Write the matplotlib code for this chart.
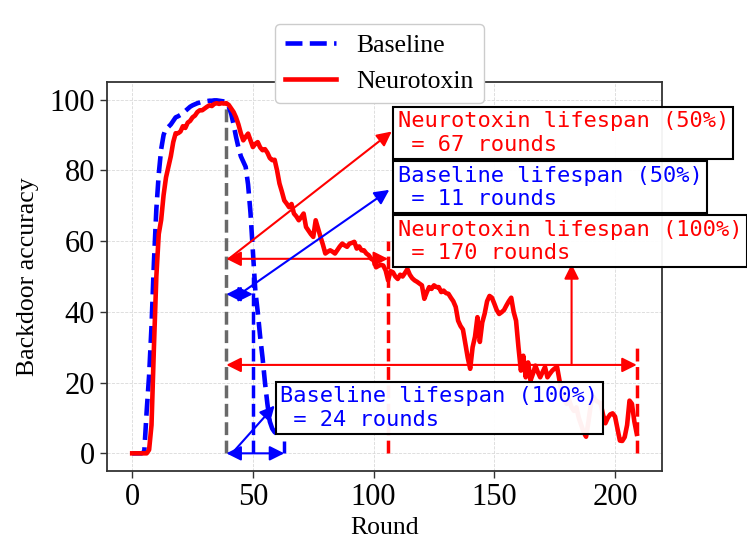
import numpy as np
import matplotlib
matplotlib.use("Agg")
import matplotlib.pyplot as plt

plt.rcParams['font.family'] = ['Liberation Serif', 'DejaVu Serif']

# Baseline backdoor accuracy per round
base_rounds = list(range(0, 63))
base_acc = [0, 0, 0, 0, 0, 0.5, 12, 22, 36, 54,
            69, 79, 86, 90, 92, 92.3, 93, 94, 95, 95.3,
            95.7, 96, 96.8, 97.4, 98, 98.4, 98.7, 99, 99.2, 99.4,
            99.5, 99.6, 99.7, 99.7, 99.8, 99.8, 99.7, 99.6, 99.5, 99.4,
            98, 96, 93, 89.5, 86.5, 84, 82.5, 81, 76, 68,
            57, 46, 40, 33, 27, 20, 14, 9, 7, 6,
            5.5, 5, 5]

# Neurotoxin backdoor accuracy per round
neuro_rounds = list(range(0, 210))
neuro_acc = [0, 0, 0, 0, 0, 0, 0, 1, 8, 30,
             50, 62, 66, 73, 78, 81, 84, 88, 90.5, 90.5,
             91, 92.5, 92, 93.5, 94, 95, 95.5, 96.5, 97, 97,
             97.5, 98, 98.4, 98.2, 98.8, 99, 98.8, 99, 98.9, 99,
             98.5, 97.5, 96.5, 95, 93, 90.5, 88.5, 89.5, 90.4, 88.5,
             86.6, 87.5, 88, 86.5, 85.7, 86, 85, 83.5, 82.9, 83,
             80, 76.3, 74, 71.5, 70.6, 69.6, 70.5, 67.8, 67, 65.9,
             66.8, 67.8, 64, 63, 62, 61.2, 65.9, 63.5, 61.2, 59,
             56.5, 57, 57.4, 57, 56.5, 57.5, 58.5, 59.3, 58.8, 58.4,
             59.3, 59.5, 59.8, 57.9, 58.5, 57.4, 57.4, 56.5, 56, 55,
             54.6, 52.6, 53, 53.3, 53.1, 51.7, 48.9, 51.5, 51.2, 50,
             49.3, 50.5, 50, 51, 52.1, 50.5, 49.5, 48.9, 48.5, 48,
             47.5, 43.7, 45.5, 47, 46.5, 47.5, 47, 47, 45.6, 46,
             45.3, 45.1, 44, 43, 41.4, 37.5, 36, 35, 31, 27,
             23.9, 30, 33, 38.5, 31.5, 37, 39.5, 43, 44.5, 44,
             42.3, 40.5, 39.4, 39.9, 40.5, 41.8, 43, 44, 40, 37.5,
             30, 23.4, 27.6, 21.5, 25.7, 20.6, 22.5, 24.8, 23, 21.5,
             23, 24.4, 21.5, 22.5, 23.4, 24, 24.4, 20.6, 17, 15,
             14, 15, 13, 12, 13, 10, 8, 6, 4.7, 9,
             14, 16, 15, 14.5, 14.2, 11, 8.5, 10, 11, 11.3,
             10.4, 7, 3.6, 3.5, 4.6, 8, 14.9, 14, 9, 5.5]

# markers: start round, threshold rounds and lifespans
start_round = 39
vline_x = [39, 50, 63, 106, 209]
vline_top = [99, 50, 3.5, 60, 30]
vline_colors = ['dimgray', 'blue', 'blue', 'red', 'red']

fig = plt.figure(figsize=(7.47, 5.6), dpi=100)
ax = fig.add_axes([0.1432, 0.1589, 0.7430, 0.6947])

ax.plot(base_rounds, base_acc, '--', color='blue', lw=3.3, label='Baseline', zorder=3)
ax.plot(neuro_rounds, neuro_acc, '-', color='red', lw=3.3, label='Neurotoxin', zorder=3)

for x, top, c in zip(vline_x, vline_top, vline_colors):
    ax.plot([x, x], [0, top], '--', color=c, lw=2.5, zorder=2)

def arrow(x0, y0, x1, y1, c, style):
    ax.annotate('', xy=(x1, y1), xytext=(x0, y0),
                arrowprops=dict(arrowstyle=style, color=c, lw=1.5,
                                mutation_scale=22, shrinkA=0, shrinkB=0),
                zorder=4)

# lifespan spans
arrow(start_round, 55, 106, 55, 'red', '<|-|>')
arrow(start_round, 45, 50, 45, 'blue', '<|-|>')
arrow(start_round, 25, 209, 25, 'red', '<|-|>')
arrow(start_round, 0, 63, 0, 'blue', '<|-|>')

# pointers to the labels
arrow(40, 55, 107.5, 91, 'red', '-|>')
arrow(44.5, 45, 106.5, 74.5, 'blue', '-|>')
arrow(182, 25, 182, 53.5, 'red', '-|>')
arrow(42, 0.5, 59, 13.5, 'blue', '-|>')

box = dict(boxstyle='square,pad=0.2', facecolor=(1, 1, 1, 0.95), edgecolor='black', lw=1.5)
mono = 'DejaVu Sans Mono'
fs = 15.8
ax.text(110, 90.6, 'Neurotoxin lifespan (50%)\n = 67 rounds', color='red',
        family=mono, fontsize=fs, ha='left', va='center', bbox=box, zorder=5)
ax.text(110, 75.2, 'Baseline lifespan (50%)\n = 11 rounds', color='blue',
        family=mono, fontsize=fs, ha='left', va='center', bbox=box, zorder=5)
ax.text(110, 60.0, 'Neurotoxin lifespan (100%)\n = 170 rounds', color='red',
        family=mono, fontsize=fs, ha='left', va='center', bbox=box, zorder=5,
        clip_on=False)
ax.text(61.3, 12.8, 'Baseline lifespan (100%)\n = 24 rounds', color='blue',
        family=mono, fontsize=fs, ha='left', va='center', bbox=box, zorder=5)

ax.set_xlim(-10.45, 219.45)
ax.set_ylim(-5, 105)
ax.set_xticks([0, 50, 100, 150, 200])
ax.set_yticks([0, 20, 40, 60, 80, 100])
ax.tick_params(labelsize=22, length=5, width=1, color='0.2')
ax.set_xlabel('Round', fontsize=18.5)
ax.set_ylabel('Backdoor accuracy', fontsize=18.5, labelpad=8)
ax.grid(True, color='0.85', linestyle='--', lw=0.6)
ax.set_axisbelow(True)
for s in ax.spines.values():
    s.set_color('0.2')
    s.set_linewidth(1.3)

ax.legend(loc='upper center', bbox_to_anchor=(0.491, 1.149), borderaxespad=0,
          fontsize=18.5, framealpha=1, handlelength=2.0)

fig.savefig('out.png', dpi=100)
